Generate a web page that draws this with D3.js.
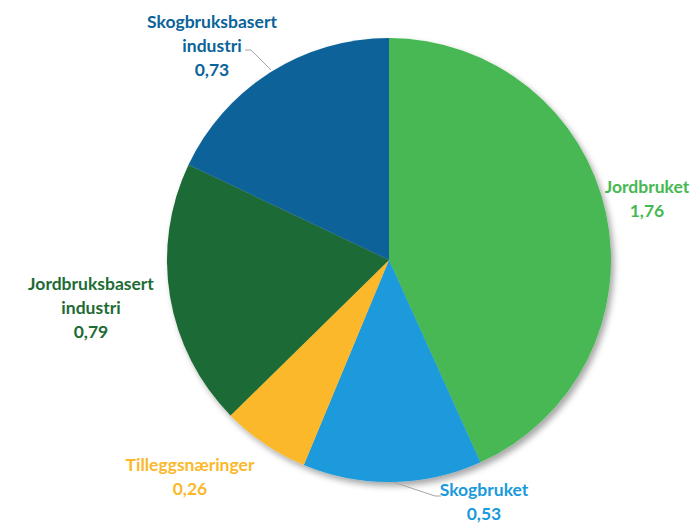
<!DOCTYPE html>
<html>
<head>
<meta charset="utf-8">
<script src="https://cdn.jsdelivr.net/npm/d3@7"></script>
<style>
  body { margin: 0; background: #fff; }
  text { font-family: Lato, "Open Sans", sans-serif; font-weight: bold; font-size: 17.5px; }
</style>
</head>
<body>
<div id="chart"></div>
<script>
var width = 690;
var height = 525;

// data, clockwise from 12 o'clock
var categories = ['Jordbruket', 'Skogbruket', 'Tilleggsnæringer', 'Jordbruksbasert industri', 'Skogbruksbasert industri'];
var values = [1.76, 0.53, 0.26, 0.79, 0.73];
var valueLabels = ['1,76', '0,53', '0,26', '0,79', '0,73'];
var colors = ['#46B853', '#1A9ADB', '#FBB829', '#1E6B35', '#0A6399'];

// label lines (text) and where they sit
var labelLines = [
  ['Jordbruket'],
  ['Skogbruket'],
  ['Tilleggsnæringer'],
  ['Jordbruksbasert', 'industri'],
  ['Skogbruksbasert', 'industri']
];
var labelPos = [[647, 193], [484, 496], [190, 471], [91, 290], [212, 28]];

var cx = 389, cy = 260, r = 222;

var svg = d3.select('#chart')
  .append('svg')
    .attr('width', width)
    .attr('height', height);

var defs = svg.append('defs');
var f = defs.append('filter').attr('id', 'shadow')
  .attr('x', '-10%').attr('y', '-10%').attr('width', '120%').attr('height', '120%');
f.append('feDropShadow')
  .attr('dx', 3).attr('dy', 4).attr('stdDeviation', 3)
  .attr('flood-color', '#000').attr('flood-opacity', 0.35);

var pie = d3.pie().sort(null).value(function(d) { return d; });
var arcs = pie(values);
var arc = d3.arc().innerRadius(0).outerRadius(r);

var g = svg.append('g').attr('transform', 'translate(' + cx + ',' + cy + ')');

g.append('g').attr('filter', 'url(#shadow)')
  .selectAll('path')
  .data(arcs)
  .join('path')
    .attr('d', arc)
    .attr('fill', function(d, i) { return colors[i]; });

// leader lines
var leaders = [
  [[245, 50], [251, 50], [271, 70]],
  [[393, 482], [435, 496], [441, 496]]
];
svg.selectAll('path.leader')
  .data(leaders)
  .join('path')
    .attr('class', 'leader')
    .attr('d', d3.line())
    .attr('fill', 'none')
    .attr('stroke', '#a6a6a6')
    .attr('stroke-width', 1);

// labels
var lab = svg.selectAll('text.lab')
  .data(categories)
  .join('text')
    .attr('class', 'lab')
    .attr('text-anchor', 'middle')
    .attr('fill', function(d, i) { return colors[i]; })
    .attr('x', function(d, i) { return labelPos[i][0]; })
    .attr('y', function(d, i) { return labelPos[i][1]; });

lab.each(function(d, i) {
  var t = d3.select(this);
  var lines = labelLines[i].concat([valueLabels[i]]);
  lines.forEach(function(s, k) {
    t.append('tspan')
      .attr('x', labelPos[i][0])
      .attr('dy', k === 0 ? 0 : 24)
      .text(s);
  });
});
</script>
</body>
</html>
